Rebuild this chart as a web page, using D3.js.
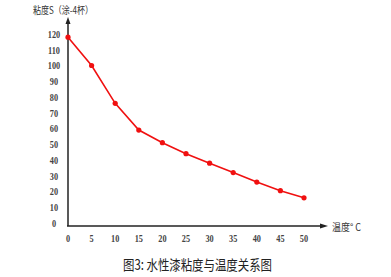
<!DOCTYPE html>
<html><head><meta charset="utf-8">
<script src="https://cdn.jsdelivr.net/npm/d3@7/dist/d3.min.js"></script>
<style>body{margin:0;background:#fff;}svg{display:block;}</style>
</head><body>
<script>
const temps = [0,5,10,15,20,25,30,35,40,45,50];
const viscosity = [118,100,76,59,51,44,38,32,26,20.5,16];
const yTicks = [0,10,20,30,40,50,60,70,80,90,100,110,120];
const xTicks = [0,5,10,15,20,25,30,35,40,45,50];
const yTitle = "粘度S（涂-4杯）";
const xTitle = "温度° C";
const caption = "图3: 水性漆粘度与温度关系图";

const W=391,H=277;
const svg=d3.select("body").append("svg").attr("width",W).attr("height",H);
const x=d3.scaleLinear().domain([0,50]).range([68,304]);
const y=d3.scaleLinear().domain([0,120]).range([223,34]);
const font="'Liberation Serif','DejaVu Serif',serif";
const axisY=226;

svg.append("line").attr("x1",68).attr("x2",68).attr("y1",axisY).attr("y2",22).attr("stroke","#222").attr("stroke-width",1.5);
svg.append("path").attr("d",`M68,17 L65.5,24 L70.5,24 Z`).attr("fill","#222");
svg.append("line").attr("x1",67).attr("x2",322).attr("y1",axisY).attr("y2",axisY).attr("stroke","#222").attr("stroke-width",1.5);
svg.append("path").attr("d",`M328,${axisY} L320,${axisY-2.5} L320,${axisY+2.5} Z`).attr("fill","#222");

svg.selectAll(".yt").data(yTicks).enter().append("text")
 .attr("x",54).attr("y",d=>y(d)+4).attr("text-anchor","middle")
 .attr("font-family",font).attr("font-size",11).attr("font-weight","bold").attr("fill","#444")
 .attr("transform",`translate(54,0) scale(0.75,1) translate(-54,0)`)
 .text(d=>d);
svg.selectAll(".xt").data(xTicks).enter().append("text")
 .attr("x",d=>x(d)).attr("y",242).attr("text-anchor","middle")
 .attr("font-family",font).attr("font-size",11).attr("font-weight","bold").attr("fill","#444")
 .attr("transform",d=>`translate(${x(d)},0) scale(0.75,1) translate(${-x(d)},0)`)
 .text(d=>d);

svg.append("text").attr("x",33).attr("y",14).attr("font-family","'Noto Sans CJK SC',sans-serif")
 .attr("font-size",10).attr("fill","#333").attr("textLength",60).attr("lengthAdjust","spacingAndGlyphs").text(yTitle);
svg.append("text").attr("x",332).attr("y",231).attr("font-family","'Noto Sans CJK SC',sans-serif")
 .attr("font-size",10).attr("fill","#333").attr("textLength",29).attr("lengthAdjust","spacingAndGlyphs").text(xTitle);
svg.append("text").attr("x",123).attr("y",270).attr("font-family","'Noto Sans CJK SC',sans-serif")
 .attr("font-size",14).attr("fill","#222").attr("textLength",149).attr("lengthAdjust","spacingAndGlyphs").text(caption);

const pts=temps.map((t,i)=>[t,viscosity[i]]);
svg.append("path").datum(pts).attr("fill","none").attr("stroke","#f01010").attr("stroke-width",1.6)
 .attr("d",d3.line().x(d=>x(d[0])).y(d=>y(d[1])));
svg.selectAll(".pt").data(pts).enter().append("circle")
 .attr("cx",d=>x(d[0])).attr("cy",d=>y(d[1])).attr("r",2.6).attr("fill","#f01010");
</script>
</body></html>
